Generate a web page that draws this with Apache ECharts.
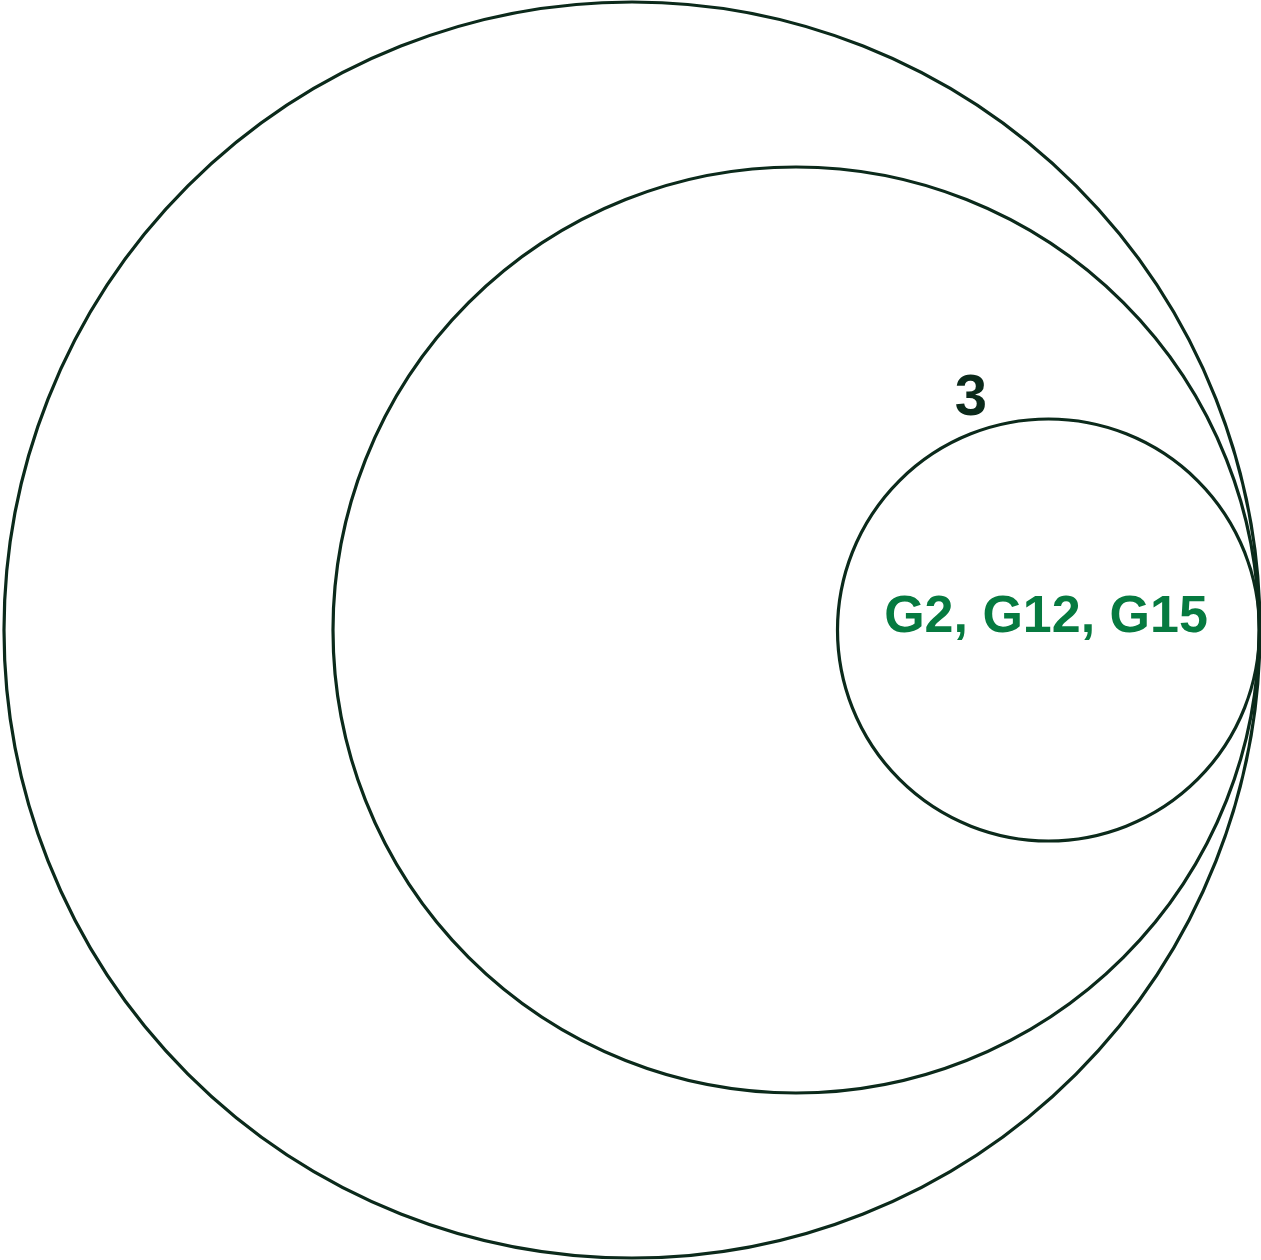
<!DOCTYPE html>
<html>
<head>
<meta charset="utf-8">
<script src="https://cdn.jsdelivr.net/npm/echarts@6/dist/echarts.min.js"></script>
<style>
  html, body { margin: 0; padding: 0; background: #fff; }
  #main { width: 1261px; height: 1260px; }
</style>
</head>
<body>
<div id="main"></div>
<script>
// nested sets, all touching on the right side
var setNames = ['outer', 'middle', 'inner'];
var centerX = [0, 164, 416.5];
var centerY = [0, 0, 0];
var radius = [628, 463, 211];

// text labels
var labelText = ['3', 'G2, G12, G15'];
var labelX = [339, 414];
var labelY = [231, 12];
var labelSize = [58, 52];
var labelColor = ['#0b2a1b', '#067a40'];

var lineColor = '#0b2a1b';

var circleData = setNames.map(function (n, i) {
    return { name: n, value: [centerX[i], centerY[i], radius[i]] };
});
var labelData = labelText.map(function (t, i) {
    return { name: t, value: [labelX[i], labelY[i], labelSize[i], i] };
});

var chart = echarts.init(document.getElementById('main'));

chart.setOption({
    backgroundColor: '#ffffff',
    animation: false,
    grid: { left: 0, right: 0, top: 0, bottom: 0 },
    xAxis: { type: 'value', min: -632, max: 629, show: false },
    yAxis: { type: 'value', min: -630, max: 630, show: false },
    series: [
        {
            type: 'custom',
            coordinateSystem: 'cartesian2d',
            data: circleData,
            renderItem: function (params, api) {
                var p = api.coord([api.value(0), api.value(1)]);
                var s = api.size([api.value(2), api.value(2)]);
                return {
                    type: 'circle',
                    shape: { cx: p[0], cy: p[1], r: s[0] },
                    style: { fill: 'none', stroke: lineColor, lineWidth: 3.2 }
                };
            }
        },
        {
            type: 'custom',
            coordinateSystem: 'cartesian2d',
            data: labelData,
            renderItem: function (params, api) {
                var p = api.coord([api.value(0), api.value(1)]);
                var i = api.value(3);
                return {
                    type: 'text',
                    x: p[0],
                    y: p[1],
                    style: {
                        text: labelText[i],
                        fill: labelColor[i],
                        font: 'bold ' + api.value(2) + 'px "Liberation Sans", Arial, sans-serif',
                        align: 'center',
                        verticalAlign: 'middle'
                    }
                };
            }
        }
    ]
});
</script>
</body>
</html>
